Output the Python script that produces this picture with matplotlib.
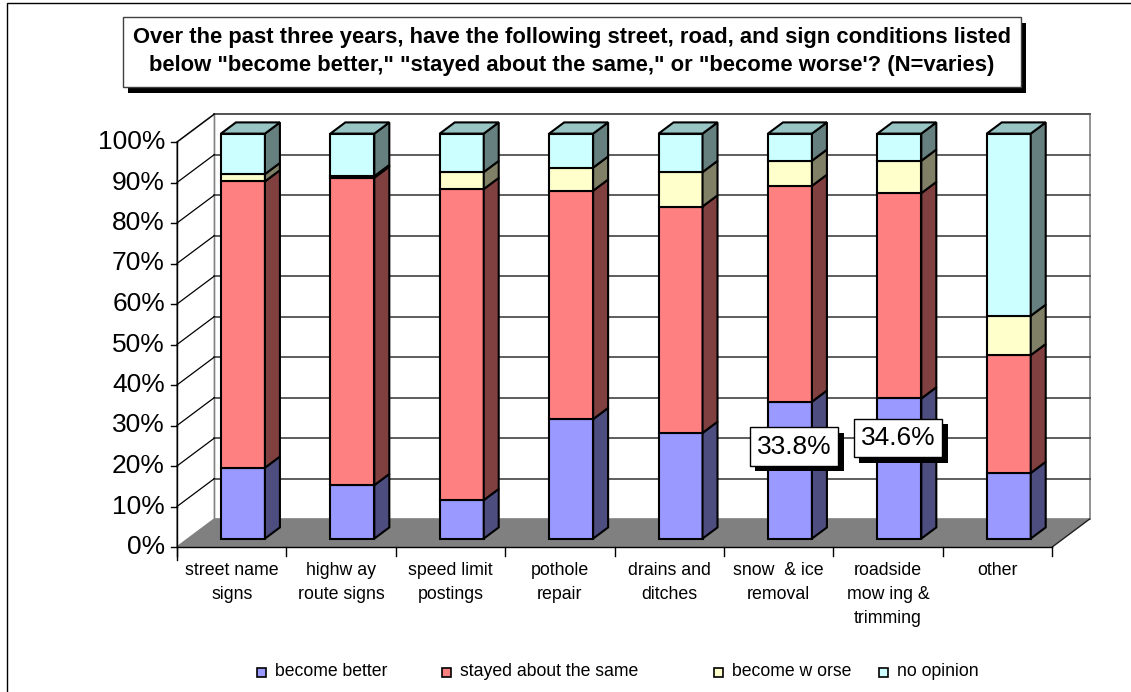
import numpy as np
import matplotlib.pyplot as plt
from matplotlib.patches import Polygon, Rectangle
import matplotlib.patheffects as pe

plt.rcParams['font.family'] = ['Liberation Sans', 'DejaVu Sans']

# survey answers, percent of respondents per item
categories = ["street name\nsigns", "highw ay\nroute signs", "speed limit\npostings",
              "pothole\nrepair", "drains and\nditches", "snow  & ice\nremoval",
              "roadside\nmow ing &\ntrimming", "other"]
better = [17.5, 13.2, 9.5, 29.5, 26.1, 33.8, 34.6, 16.2]
same = [70.7, 75.9, 76.8, 56.4, 55.9, 53.3, 50.7, 29.1]
worse = [1.8, 0.4, 4.2, 5.7, 8.5, 6.2, 8.0, 9.7]
no_opinion = [10.0, 10.5, 9.5, 8.4, 9.5, 6.7, 6.7, 45.0]
series_names = ["become better", "stayed about the same", "become w orse", "no opinion"]
y_ticks = list(range(0, 101, 10))
y_labels = ["%d%%" % t for t in y_ticks]
labelled_bars = [5, 6]   # only these "become better" values get a label

title_lines = ["Over the past three years, have the following street, road, and sign conditions listed",
               "below \"become better,\" \"stayed about the same,\" or \"become worse'? (N=varies)"]

front_colors = ['#9999FF', '#FF8080', '#FFFFCC', '#CCFFFF']
side_colors = ['#4D4D80', '#804040', '#808066', '#668080']
top_colors = ['#7A7ACC', '#CC6666', '#CCCCA3', '#99C4C4']

# oblique depth offset of the whole plot box, in data units
DX, DY = 0.3425, 6.91
D0, D1 = 0.30, 0.70     # bar front / back depth
HW = 0.201              # half bar width

W, H = 1131.0, 692.0


def proj(x, y, d):
    return (x + d * DX, y + d * DY)


def poly(ax, pts, fc, ec='black', lw=1.5, z=1):
    ax.add_patch(Polygon(pts, closed=True, facecolor=fc, edgecolor=ec,
                         linewidth=lw, joinstyle='miter', zorder=z))


def main():
    fig = plt.figure(figsize=(11.31, 6.92), dpi=100)
    ax = fig.add_axes([0, 0, 1, 1])
    ax.set_xlim(-0.5 - 177 / 109.4, -0.5 + (1131 - 177) / 109.4)
    ax.set_ylim(-145 / 4.05, 547 / 4.05)
    ax.axis('off')

    n = len(categories)
    x0, x1 = -0.5, n - 0.5

    # outer chart border (only top and left edges fall inside the image)
    fig.add_artist(Rectangle((7 / W, -0.1), 1.2, 1 - 3 / H + 0.1, transform=fig.transFigure,
                             fill=False, edgecolor='black', linewidth=1))

    # back wall, left wall, floor
    poly(ax, [proj(x0, 0, 1), proj(x1, 0, 1), proj(x1, 100, 1), proj(x0, 100, 1)],
         'white', ec='#808080', lw=1.2, z=0)
    poly(ax, [proj(x0, 0, 0), proj(x0, 0, 1), proj(x0, 100, 1), proj(x0, 100, 0)],
         'white', ec='#808080', lw=1.2, z=0)
    for t in y_ticks[1:]:
        a, b = proj(x0, t, 1), proj(x1, t, 1)
        ax.plot([a[0], b[0]], [a[1], b[1]], color='#505050', lw=1.3, zorder=0.5)
        c = proj(x0, t, 0)
        ax.plot([c[0], a[0]], [c[1], a[1]], color='black', lw=0.9, zorder=0.5)
    poly(ax, [proj(x0, 0, 0), proj(x1, 0, 0), proj(x1, 0, 1), proj(x0, 0, 1)],
         '#808080', ec='none', lw=0, z=0.6)
    a, b = proj(x1, 0, 0), proj(x1, 0, 1)
    ax.plot([a[0], b[0]], [a[1], b[1]], color='#202020', lw=1.0, zorder=0.7)

    # stacked 3d bars
    stacks = np.array([better, same, worse, no_opinion])
    for i in range(n):
        bottom = 0.0
        for s in range(len(stacks)):
            v = stacks[s][i]
            top = bottom + v
            poly(ax, [proj(i - HW, bottom, D0), proj(i + HW, bottom, D0),
                      proj(i + HW, top, D0), proj(i - HW, top, D0)], front_colors[s], z=2)
            poly(ax, [proj(i + HW, bottom, D0), proj(i + HW, bottom, D1),
                      proj(i + HW, top, D1), proj(i + HW, top, D0)], side_colors[s], z=2)
            bottom = top
        poly(ax, [proj(i - HW, bottom, D0), proj(i + HW, bottom, D0),
                  proj(i + HW, bottom, D1), proj(i - HW, bottom, D1)], top_colors[-1], z=2)

    # front axes
    ax.plot([x0, x0], [-3.3, 100], color='black', lw=1, zorder=3)
    ax.plot([x0, x1], [0, 0], color='black', lw=1, zorder=3)
    for t, lab in zip(y_ticks, y_labels):
        ax.plot([x0 - 0.055, x0], [t, t], color='black', lw=1, zorder=3)
        ax.text(x0 - 0.11, t, lab, ha='right', va='center', fontsize=19)
    for k in range(n + 1):
        ax.plot([k - 0.5, k - 0.5], [0, -2.1], color='black', lw=1, zorder=3)
    for i, lab in enumerate(categories):
        ax.text(i, -3.6, lab, ha='center', va='top', fontsize=12.8, linespacing=1.55)

    # value labels with drop shadow
    label_y = {5: 24.8, 6: 26.9}
    label_dx = {5: 0.14, 6: 0.09}
    for i in labelled_bars:
        t = ax.text(i + label_dx[i], label_y[i], "%.1f%%" % better[i], ha='center', va='center',
                    fontsize=19, zorder=5,
                    bbox=dict(boxstyle='square,pad=0.27', fc='white', ec='black', lw=1))
        t.get_bbox_patch().set_path_effects(
            [pe.SimplePatchShadow(offset=(4, -4), shadow_rgbFace='black', alpha=1.0), pe.Normal()])

    # title box
    fig.add_artist(Rectangle((128 / W, 1 - 93 / H), 898 / W, 70 / H, transform=fig.transFigure,
                             facecolor='black', edgecolor='none'))
    fig.add_artist(Rectangle((123 / W, 1 - 87 / H), 898 / W, 70 / H, transform=fig.transFigure,
                             facecolor='white', edgecolor='#404040', linewidth=1))
    for line, ty in zip(title_lines, [38, 65]):
        fig.text(572 / W, 1 - ty / H, line, ha='center', va='center', fontsize=15.8,
                 fontweight='bold')

    # legend
    legend_x = [257, 442, 714, 879]
    for name, c, lx in zip(series_names, front_colors, legend_x):
        fig.add_artist(Rectangle((lx / W, 1 - 676.5 / H), 9 / W, 9 / H, transform=fig.transFigure,
                                 facecolor=c, edgecolor='black', linewidth=1.2))
        fig.text((lx + 18) / W, 1 - 671.5 / H, name, ha='left', va='center', fontsize=12.7)

    fig.savefig("out.png", dpi=100)


if __name__ == "__main__":
    main()
